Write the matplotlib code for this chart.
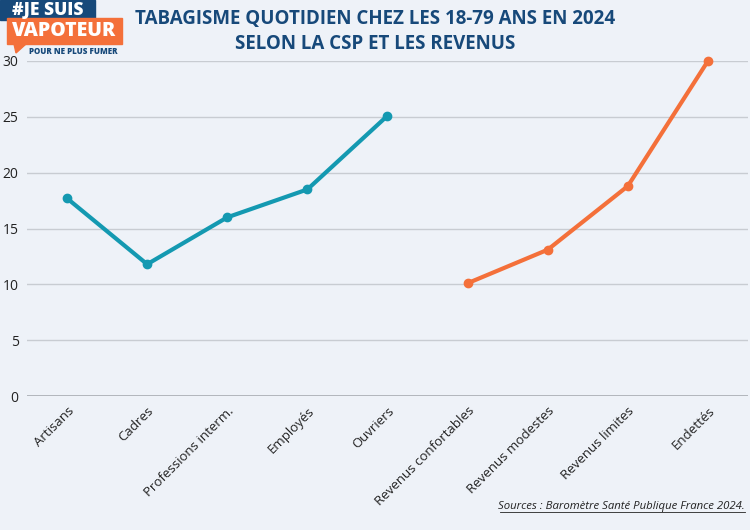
import matplotlib.pyplot as plt
from matplotlib.patches import Rectangle, Polygon

# données
categories = ["Artisans", "Cadres", "Professions interm.", "Employés", "Ouvriers",
              "Revenus confortables", "Revenus modestes", "Revenus limites", "Endettés"]
csp_labels = categories[:5]
csp_values = [17.7, 11.8, 16.0, 18.5, 25.1]
rev_labels = categories[5:]
rev_values = [10.1, 13.1, 18.8, 30.0]
y_ticks = [0, 5, 10, 15, 20, 25, 30]

BG = "#eef2f8"
TEAL = "#1499b1"
ORANGE = "#f4703a"
NAVY = "#17497a"

plt.rcParams['font.family'] = ['Open Sans', 'DejaVu Sans']

fig = plt.figure(figsize=(7.5, 5.3), dpi=100, facecolor=BG)
ax = fig.add_axes([27 / 750, 1 - 396 / 530, 721 / 750, 335 / 530])
ax.set_facecolor(BG)

x_csp = list(range(len(csp_labels)))
x_rev = list(range(len(csp_labels), len(categories)))
ax.plot(x_csp, csp_values, color=TEAL, lw=3, marker='o', ms=6, zorder=3)
ax.plot(x_rev, rev_values, color=ORANGE, lw=3, marker='o', ms=6, zorder=3, clip_on=False)

ax.set_xlim(-0.5, len(categories) - 0.5)
ax.set_ylim(0, 30)
ax.set_yticks(y_ticks)
ax.set_xticks(range(len(categories)))
ax.set_xticklabels(categories, rotation=45, ha='right', rotation_mode='anchor')
ax.tick_params(axis='x', length=0, labelsize=9.5, colors="#222222", pad=6)
ax.tick_params(axis='y', length=0, labelsize=10, colors="#222222", pad=6)
ax.grid(axis='y', color="#c8ccd2", lw=1)
ax.set_axisbelow(True)
for s in ax.spines.values():
    s.set_visible(False)
ax.axhline(0, color="#a9adb3", lw=1.2, zorder=1)

# titre
fig.text(0.5, 1 - 19 / 530, "TABAGISME QUOTIDIEN CHEZ LES 18-79 ANS EN 2024",
         ha='center', va='center', fontsize=13.5, fontweight='bold', color=NAVY)
fig.text(0.5, 1 - 44 / 530, "SELON LA CSP ET LES REVENUS",
         ha='center', va='center', fontsize=13.5, fontweight='bold', color=NAVY)

# logo
W, H = 750, 530
fig.patches.append(Rectangle((0, 1 - 20 / H), 95 / W, 20 / H, transform=fig.transFigure,
                             color=NAVY, zorder=5))
fig.patches.append(Rectangle((7 / W, 1 - 44 / H), 115 / W, 26 / H, transform=fig.transFigure,
                             color=ORANGE, zorder=5))
fig.patches.append(Polygon([(14 / W, 1 - 44 / H), (26 / W, 1 - 44 / H), (16 / W, 1 - 53 / H)],
                           transform=fig.transFigure, color=ORANGE, zorder=5))
fig.text(48 / W, 1 - 10.5 / H, "#JE SUIS", ha='center', va='center', fontsize=12.5,
         fontweight='heavy', color='white', zorder=6)
fig.text(64 / W, 1 - 31.5 / H, "VAPOTEUR", ha='center', va='center', fontsize=14,
         fontweight='heavy', color='white', zorder=6)
fig.text(73 / W, 1 - 51.5 / H, "POUR NE PLUS FUMER", ha='center', va='center', fontsize=5.8,
         fontweight='heavy', color=NAVY, zorder=6)

# source
fig.text(745 / W, 1 - 506 / H, "Sources : Baromètre Santé Publique France 2024.",
         ha='right', va='center', fontsize=8.2, style='italic', color="#222222")
fig.add_artist(plt.Line2D([500 / W, 745 / W], [1 - 512 / H, 1 - 512 / H],
                          transform=fig.transFigure, color="#222222", lw=0.6))

fig.savefig("out.png", dpi=100, facecolor=BG)
